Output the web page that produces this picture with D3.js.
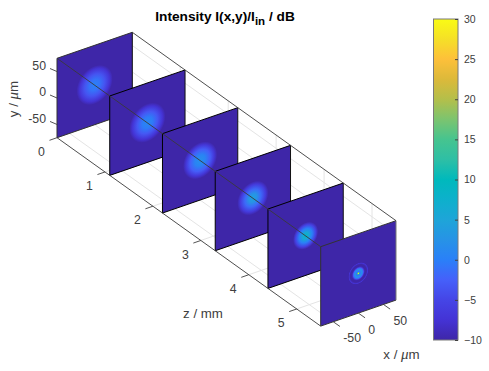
<!DOCTYPE html>
<html lang="en">
<head>
<meta charset="UTF-8">
<title>Intensity</title>
<script src="https://d3js.org/d3.v7.min.js"></script>
<style>
  html, body { margin: 0; padding: 0; background: #fff; }
  svg { display: block; }
  text { font-family: "Liberation Sans", Arial, sans-serif; fill: #404040; }
</style>
</head>
<body>
<svg id="chart" width="489" height="371"></svg>
<script>
// values
const panelZ = [0, 1.1, 2.2, 3.3, 4.4, 5.5];
const panelRadii = [
  [0, 10, 20, 30, 36],
  [0, 10, 20, 30, 36],
  [0, 10, 20, 28, 34],
  [0, 8, 16, 25, 31],
  [0, 6, 13, 20, 25],
  [0, 1, 2, 3.5, 4.5, 6, 8, 10, 11.5, 13, 16, 17.5, 18.5, 20]
];
const panelDb = [
  [0.3, -1, -3.6, -7.5, -10],
  [1, -0.3, -3.2, -7.5, -10],
  [2, 0.5, -2.8, -7, -10],
  [4.5, 2.5, -1.8, -6.5, -10],
  [9, 6, 0, -5.5, -10],
  [30, 24, 12, -2, 0, 2, 1, -3, -8, -10, -10, -8.5, -7.5, -10]
];
const xTicks = [-50, 0, 50];
const yTicks = [-50, 0, 50];
const zTicks = [0, 1, 2, 3, 4, 5];
const cbTicks = [-10, -5, 0, 5, 10, 15, 20, 25, 30];
const parulaPos = [0, 0.0625, 0.125, 0.1875, 0.25, 0.3125, 0.375, 0.4375, 0.5, 0.5625, 0.625, 0.6875, 0.75, 0.8125, 0.875, 0.9375, 1];
const parulaCol = ["#3e26a8", "#4433d5", "#4545e6", "#4560fa", "#2a80f8", "#2793e6", "#1ea5d8", "#0db0cc", "#00b9bc", "#2ebfa5", "#46c48f", "#7cc46f", "#b4bf4a", "#dcb93a", "#fdc03a", "#f5e027", "#f9fb15"];

const svg = d3.select("#chart");
const defs = svg.append("defs");

// projection of the 3d box on the page
const xToX = d3.scaleLinear().domain([-75, 75]).range([57, 132.3]);
const xToY = d3.scaleLinear().domain([-75, 75]).range([0, -26]);
const yToY = d3.scaleLinear().domain([-75, 75]).range([137.7, 58.3]);
const zToX = d3.scaleLinear().domain([0, 5.5]).range([0, 263.7]);
const zToY = d3.scaleLinear().domain([0, 5.5]).range([0, 188.4]);
const project = (x, y, z) => [xToX(x) + zToX(z), xToY(x) + yToY(y) + zToY(z)];

const color = d3.scaleLinear().domain(parulaPos.map(p => -10 + p * 40)).range(parulaCol);

function line3d(a, b, stroke, width) {
  const p = project(a[0], a[1], a[2]), q = project(b[0], b[1], b[2]);
  svg.append("line").attr("x1", p[0]).attr("y1", p[1]).attr("x2", q[0]).attr("y2", q[1])
    .attr("stroke", stroke).attr("stroke-width", width);
}

// grid on floor and back wall
const gridCol = "#e4e4e4";
xTicks.forEach(x => line3d([x, -75, 0], [x, -75, 5.5], gridCol, 1));
zTicks.forEach(z => {
  line3d([-75, -75, z], [75, -75, z], gridCol, 1);
  line3d([75, -75, z], [75, 75, z], gridCol, 1);
});
yTicks.forEach(y => line3d([75, y, 0], [75, y, 5.5], gridCol, 1));

// panels
panelZ.forEach((z, i) => {
  const o = project(0, 0, z);
  const a = xToX(1) - xToX(0), b = xToY(1) - xToY(0), d = yToY(1) - yToY(0);
  const g = svg.append("g").attr("transform", `matrix(${a} ${b} 0 ${d} ${o[0]} ${o[1]})`);
  const radii = panelRadii[i], rMax = radii[radii.length - 1];
  const grad = defs.append("radialGradient").attr("id", "blob" + i);
  radii.forEach((r, k) => {
    grad.append("stop").attr("offset", r / rMax).attr("stop-color", color(panelDb[i][k]));
  });
  g.append("rect").attr("x", -75).attr("y", -75).attr("width", 150).attr("height", 150)
    .attr("fill", color(-10));
  g.append("circle").attr("r", rMax).attr("fill", `url(#blob${i})`);
  const edge = i === 0 || i === 5 ? "#333" : "#000";
  line3d([-75, 75, z], [75, 75, z], edge, 1);
  line3d([-75, -75, z], [75, -75, z], edge, 1);
  line3d([-75, -75, z], [-75, 75, z], edge, 1);
  line3d([75, -75, z], [75, 75, z], i === 5 ? "#777" : "#111", 1);
});

// box
const boxCol = "#3a3a3a";
line3d([-75, 75, 0], [-75, 75, 5.5], boxCol, 0.9);
line3d([75, 75, 0], [75, 75, 5.5], boxCol, 0.9);
line3d([-75, -75, 0], [-75, -75, 5.5], boxCol, 0.9);

// ticks
const tickCol = "#404040";
function tick(p, dx, dy) {
  svg.append("line").attr("x1", p[0]).attr("y1", p[1]).attr("x2", p[0] + dx).attr("y2", p[1] + dy)
    .attr("stroke", tickCol).attr("stroke-width", 0.9);
}
function label(x, y, t, anchor) {
  return svg.append("text").attr("x", x).attr("y", y).attr("text-anchor", anchor || "middle")
    .attr("font-size", 12.3).text(t);
}
yTicks.forEach(y => {
  const p = project(-75, y, 0);
  tick(p, -7, -3);
  label(p[0] - 11, p[1] - 1.6, y, "end");
});
zTicks.forEach(z => {
  const p = project(-75, -75, z);
  tick(p, -7.5, 2.6);
  label(p[0] - 15.5, p[1] + 18.2, z);
});
xTicks.forEach(x => {
  const p = project(x, -75, 5.5);
  tick(p, 6.7, 4.7);
  label(p[0] + 10, p[1] + 20.5, x, "start");
});

// axis titles
function muLabel(x, y, pre, rotate) {
  const t = svg.append("text").attr("font-size", 13.3).attr("text-anchor", "middle");
  if (rotate) t.attr("transform", `translate(${x},${y}) rotate(-90)`);
  else t.attr("x", x).attr("y", y);
  t.append("tspan").text(pre);
  t.append("tspan").attr("font-family", "Liberation Serif").attr("font-style", "italic").attr("font-size", 15).text("\u03bc");
  t.append("tspan").text("m");
}
muLabel(17.5, 99, "y / ", true);
muLabel(401.5, 359, "x / ", false);
svg.append("text").attr("x", 203).attr("y", 318).attr("text-anchor", "middle").attr("font-size", 13.3).text("z / mm");

// title
const title = svg.append("text").attr("x", 225).attr("y", 21).attr("text-anchor", "middle")
  .attr("font-size", 13.7).attr("font-weight", "bold").style("fill", "#000");
title.append("tspan").text("Intensity I(x,y)/I");
title.append("tspan").attr("dy", 4).attr("font-size", 11.5).text("in");
title.append("tspan").attr("dy", -4).text(" / dB");

// colorbar
const cbScale = d3.scaleLinear().domain([-10, 30]).range([340, 19]);
const cbGrad = defs.append("linearGradient").attr("id", "cb").attr("x1", 0).attr("y1", 1).attr("x2", 0).attr("y2", 0);
parulaPos.forEach((p, i) => cbGrad.append("stop").attr("offset", p).attr("stop-color", parulaCol[i]));
svg.append("rect").attr("x", 433.5).attr("y", 19).attr("width", 24.5).attr("height", 321)
  .attr("fill", "url(#cb)").attr("stroke", "#7a7a7a").attr("stroke-width", 1);
const cbAxis = svg.append("g").attr("transform", "translate(458,0)")
  .call(d3.axisRight(cbScale).tickValues(cbTicks).tickSize(-3).tickPadding(6));
cbAxis.select(".domain").remove();
cbAxis.selectAll("line").attr("stroke", tickCol);
cbAxis.selectAll("text").attr("font-size", 10.5).attr("font-family", "Liberation Sans").style("fill", "#404040");
</script>
</body>
</html>
